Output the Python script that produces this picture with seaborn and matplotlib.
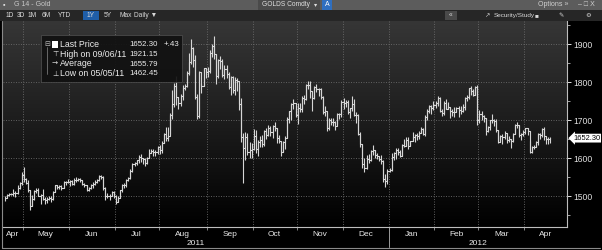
import numpy as np
import pandas as pd
import matplotlib
matplotlib.use("Agg")
import matplotlib.pyplot as plt
import matplotlib.transforms as mtransforms
from matplotlib.colors import LinearSegmentedColormap
from matplotlib.patches import Rectangle
import seaborn as sns

sns.set_theme(style="dark")
plt.rcParams['font.family'] = ['Liberation Sans', 'DejaVu Sans']

# ---------------- data (GOLDS Comdty, daily, 1Y) ----------------
close = [
    # Apr 2011
    1496, 1503, 1505, 1504, 1508, 1507, 1521, 1535, 1556,
    # May
    1545, 1535, 1515, 1474, 1491, 1513, 1516, 1500, 1502, 1492, 1489, 1493, 1495, 1493, 1511, 1528, 1525, 1526, 1521, 1536, 1536, 1536,
    # Jun
    1540, 1531, 1542, 1543, 1545, 1542, 1531, 1528, 1516, 1522, 1530, 1531, 1538, 1542, 1552, 1550, 1520, 1500, 1500, 1501, 1511, 1501,
    # Jul
    1483, 1496, 1515, 1528, 1530, 1542, 1547, 1566, 1584, 1587, 1594, 1603, 1601, 1598, 1587, 1601, 1614, 1619, 1615, 1615, 1628,
    # Aug
    1622, 1640, 1663, 1652, 1659, 1713, 1742, 1790, 1760, 1746, 1764, 1785, 1790, 1823, 1852, 1889, 1857, 1760, 1711, 1826, 1790, 1836, 1826,
    # Sep
    1828, 1877, 1896, 1873, 1816, 1859, 1856, 1818, 1834, 1821, 1786, 1813, 1779, 1806, 1803, 1741, 1656, 1627, 1656, 1616, 1622, 1624,
    # Oct
    1659, 1623, 1642, 1648, 1636, 1670, 1661, 1680, 1669, 1683, 1678, 1652, 1645, 1617, 1642, 1653, 1703, 1723, 1743, 1746, 1712,
    # Nov
    1732, 1730, 1758, 1755, 1793, 1793, 1776, 1758, 1788, 1781, 1782, 1760, 1721, 1724, 1678, 1700, 1694, 1696, 1683, 1715, 1716, 1747,
    # Dec
    1745, 1747, 1720, 1731, 1741, 1712, 1712, 1663, 1636, 1585, 1575, 1598, 1596, 1618, 1620, 1608, 1605, 1598, 1592, 1545, 1540, 1566,
    # Jan 2012
    1568, 1603, 1613, 1620, 1616, 1606, 1635, 1631, 1647, 1631, 1645, 1654, 1660, 1657, 1667, 1677, 1664, 1709, 1725, 1737, 1731, 1740,
    # Feb
    1745, 1758, 1725, 1719, 1746, 1730, 1735, 1724, 1722, 1722, 1731, 1726, 1723, 1734, 1758, 1760, 1783, 1777, 1767, 1788, 1700,
    # Mar
    1716, 1710, 1705, 1671, 1682, 1700, 1701, 1697, 1674, 1643, 1658, 1655, 1665, 1648, 1650, 1644, 1663, 1686, 1686, 1660, 1662, 1669,
    # Apr
    1678, 1672, 1616, 1628, 1630, 1641, 1662, 1660, 1676, 1659, 1650, 1650, 1652.3,
]
high = [
    1500, 1506, 1509, 1507, 1518, 1512, 1530, 1537, 1564,
    1577, 1548, 1543, 1517, 1502, 1517, 1521, 1520, 1505, 1518, 1497, 1497, 1500, 1499, 1513, 1530, 1530, 1530, 1528, 1539, 1540, 1545,
    1543, 1542, 1547, 1549, 1548, 1547, 1543, 1535, 1530, 1525, 1532, 1537, 1541, 1545, 1554, 1556, 1552, 1523, 1507, 1504, 1514, 1512,
    1503, 1499, 1516, 1531, 1535, 1545, 1550, 1570, 1586, 1590, 1595, 1607, 1610, 1600, 1600, 1602, 1623, 1624, 1625, 1622, 1632,
    1635, 1645, 1665, 1682, 1681, 1718, 1778, 1797, 1815, 1760, 1769, 1791, 1795, 1830, 1877, 1912, 1893, 1870, 1769, 1829, 1798, 1838, 1836,
    1840, 1883, 1900, 1921, 1873, 1860, 1868, 1860, 1844, 1844, 1827, 1815, 1817, 1813, 1811, 1796, 1758, 1665, 1669, 1665, 1642, 1640,
    1676, 1673, 1647, 1658, 1660, 1675, 1678, 1688, 1683, 1687, 1695, 1678, 1660, 1645, 1644, 1659, 1707, 1725, 1746, 1755, 1739,
    1744, 1746, 1764, 1765, 1796, 1803, 1802, 1767, 1790, 1795, 1785, 1785, 1763, 1736, 1722, 1706, 1705, 1704, 1697, 1719, 1719, 1753,
    1757, 1753, 1753, 1732, 1763, 1754, 1720, 1715, 1668, 1637, 1601, 1607, 1611, 1622, 1634, 1620, 1612, 1602, 1608, 1594, 1557, 1571,
    1573, 1612, 1615, 1626, 1626, 1622, 1637, 1649, 1654, 1654, 1646, 1668, 1663, 1667, 1672, 1681, 1680, 1712, 1730, 1739, 1740, 1750,
    1750, 1764, 1761, 1728, 1750, 1755, 1748, 1735, 1728, 1735, 1734, 1737, 1738, 1742, 1760, 1765, 1785, 1790, 1781, 1789, 1792,
    1726, 1725, 1714, 1705, 1685, 1701, 1715, 1702, 1702, 1675, 1661, 1664, 1670, 1664, 1657, 1651, 1665, 1690, 1696, 1686, 1665, 1673,
    1679, 1677, 1646, 1632, 1635, 1645, 1667, 1665, 1678, 1681, 1655, 1654, 1656,
]
low = [
    1488, 1494, 1499, 1502, 1500, 1497, 1505, 1518, 1530,
    1536, 1531, 1510, 1462, 1473, 1490, 1508, 1500, 1479, 1490, 1478, 1481, 1489, 1484, 1490, 1510, 1518, 1519, 1516, 1520, 1530, 1533,
    1527, 1528, 1528, 1538, 1540, 1536, 1530, 1524, 1512, 1512, 1518, 1520, 1528, 1535, 1540, 1544, 1515, 1490, 1495, 1489, 1500, 1495,
    1478, 1484, 1494, 1511, 1521, 1523, 1540, 1546, 1563, 1580, 1581, 1588, 1589, 1583, 1580, 1585, 1599, 1612, 1606, 1605, 1610,
    1611, 1613, 1640, 1645, 1644, 1664, 1703, 1733, 1740, 1729, 1738, 1752, 1779, 1786, 1818, 1848, 1839, 1755, 1702, 1704, 1771, 1789, 1810,
    1813, 1825, 1866, 1861, 1795, 1811, 1833, 1813, 1808, 1811, 1782, 1766, 1771, 1766, 1777, 1726, 1641, 1535, 1596, 1609, 1600, 1601,
    1620, 1614, 1604, 1630, 1630, 1632, 1650, 1658, 1659, 1653, 1670, 1640, 1640, 1605, 1616, 1625, 1652, 1693, 1700, 1728, 1708,
    1690, 1722, 1722, 1743, 1752, 1781, 1759, 1725, 1755, 1774, 1764, 1755, 1717, 1710, 1670, 1673, 1687, 1685, 1673, 1690, 1703, 1707,
    1729, 1735, 1717, 1704, 1725, 1710, 1693, 1661, 1628, 1575, 1563, 1571, 1588, 1592, 1608, 1600, 1598, 1592, 1584, 1537, 1523, 1531,
    1562, 1566, 1595, 1598, 1607, 1602, 1606, 1629, 1631, 1625, 1632, 1644, 1642, 1648, 1650, 1665, 1660, 1657, 1700, 1718, 1717, 1727,
    1732, 1738, 1721, 1710, 1713, 1728, 1728, 1704, 1711, 1707, 1720, 1707, 1715, 1722, 1727, 1750, 1755, 1767, 1764, 1767, 1688,
    1691, 1701, 1694, 1660, 1668, 1675, 1693, 1685, 1668, 1640, 1642, 1637, 1650, 1639, 1641, 1627, 1641, 1662, 1678, 1655, 1648, 1657,
    1662, 1660, 1612, 1613, 1625, 1630, 1634, 1650, 1655, 1647, 1637, 1638, 1640,
]
month_labels = ["Apr", "May", "Jun", "Jul", "Aug", "Sep", "Oct", "Nov", "Dec", "Jan", "Feb", "Mar", "Apr"]
year_labels = ["2011", "2012"]
price_ticks = [1500, 1600, 1700, 1800, 1900]
legend_rows = [("Last Price", "1652.30", "+.43"),
               ("High on 09/06/11", "1921.15", ""),
               ("Average", "1655.79", ""),
               ("Low on 05/05/11", "1462.45", "")]
last_price = 1652.30
buttons = ["1D", "3D", "1M", "6M", "YTD", "1Y", "5Y", "Max", "Daily \u25BC"]

n = min(len(close), len(high), len(low))
dates = pd.bdate_range("2011-04-19", periods=n)
df = pd.DataFrame({"i": np.arange(n), "close": close[:n], "high": high[:n], "low": low[:n]})

# ---------------- figure ----------------
W, H = 602, 250
fig = plt.figure(figsize=(W / 100, H / 100), dpi=100, facecolor="black")
PL, PR, PT, PB = 3, 567, 21, 227
rect = [PL / W, 1 - PB / H, (PR - PL) / W, (PB - PT) / H]

bg = fig.add_axes(rect, zorder=0)
cmap = LinearSegmentedColormap.from_list("g", ["#363636", "#1c1c1c", "#000000"])
bg.imshow(np.linspace(0, 1, 256)[:, None], cmap=cmap, aspect="auto", extent=[0, 1, 0, 1])
bg.axis("off")

ax = fig.add_axes(rect, zorder=1)
ax.patch.set_alpha(0)
pxbar = 2.09
x0 = -(5 - PL) / pxbar
x1 = (PR - 5) / pxbar
ax.set_xlim(x0, x1)
ylo = 1600 - (PB - 158) / 0.38
yhi = 1600 + (158 - PT) / 0.38
ax.set_ylim(ylo, yhi)

# grid
for p in price_ticks:
    ax.axhline(p, color="#6a6a6a", lw=0.6, ls=(0, (1.2, 1.8)), zorder=1)
starts = [0] + [k for k in range(1, n) if dates[k].month != dates[k - 1].month]
bounds = [s - 0.5 for s in starts[1:]]
for b in bounds:
    ax.axvline(b, color="#6a6a6a", lw=0.6, ls=(0, (1.2, 1.8)), zorder=1)

# bars
bar_col = "#d6d6d6"
ax.vlines(df["i"], df["low"], df["high"], color=bar_col, lw=0.8, zorder=3)
sns.lineplot(data=df, x="i", y="close", drawstyle="steps-post", color=bar_col,
             lw=0.8, ax=ax, zorder=3)
ax.set_xlabel("")
ax.set_ylabel("")

# spines
for s in ["top", "left"]:
    ax.spines[s].set_visible(False)
ax.spines["right"].set_color("#bdbdbd")
ax.spines["bottom"].set_color("#bdbdbd")
ax.spines["right"].set_linewidth(0.8)
ax.spines["bottom"].set_linewidth(0.8)

# y axis on right
ax.yaxis.tick_right()
ax.set_yticks(price_ticks)
ax.set_yticklabels([str(p) for p in price_ticks])
ax.set_yticks(np.arange(1450, 1951, 50), minor=True)
ax.tick_params(axis="y", which="major", colors="#e0e0e0", labelsize=6.2, length=3, width=0.7, pad=1.5, direction="out", right=True, left=False)
ax.tick_params(axis="y", which="minor", colors="#bdbdbd", length=1.8, width=0.6, right=True, left=False)
ax.set_xticks(bounds)
ax.set_xticklabels([])
ax.tick_params(axis="x", colors="#9a9a9a", length=2, width=0.6, bottom=True)

# month labels
bt = mtransforms.blended_transform_factory(ax.transData, ax.transAxes)
for k, s in enumerate(starts):
    a = x0 if k == 0 else s - 0.5
    b = starts[k + 1] - 0.5 if k + 1 < len(starts) else x1
    ax.text((a + b) / 2, -7.5 / 206, month_labels[k], transform=bt, ha="center", va="center",
            fontsize=6, color="#e8e8e8", clip_on=False)
jan = [s for s in starts if dates[s].month == 1][0] - 0.5
ax.text((x0 + jan) / 2, -16.5 / 206, year_labels[0], transform=bt, ha="center", va="center",
        fontsize=6, color="#e8e8e8", clip_on=False)
ax.text((jan + x1) / 2, -16.5 / 206, year_labels[1], transform=bt, ha="center", va="center",
        fontsize=6, color="#e8e8e8", clip_on=False)
ax.plot([jan, jan], [0, -20 / 206], transform=bt, color="#9a9a9a", lw=0.7, clip_on=False)

# last price box
bty = mtransforms.blended_transform_factory(ax.transAxes, ax.transData)
ax.text(1.0 + 6 / 564, last_price, "1652.30", transform=bty, ha="left", va="center", fontsize=5.4,
        color="black", clip_on=False,
        bbox=dict(boxstyle="larrow,pad=0.12", fc="white", ec="none"))

# frame lines
def fxy(px, py):
    return px / W, 1 - py / H
fig.add_artist(plt.Line2D([2 / W, 2 / W], [1 - 21 / H, 1 - 248 / H], color="#8a8a8a", lw=0.8, zorder=6))
fig.add_artist(plt.Line2D([2 / W, 600 / W], [1 - 247.5 / H, 1 - 247.5 / H], color="#8a8a8a", lw=0.8, zorder=6))

# top bars
fig.add_artist(Rectangle(fxy(0, 10), 1, 10 / H, transform=fig.transFigure, fc="#5c5c5c", ec="none", zorder=5))
fig.add_artist(Rectangle(fxy(0, 21), 1, 11 / H, transform=fig.transFigure, fc="#262626", ec="none", zorder=5))
fig.text(*fxy(3, 5), "\u25AA", fontsize=5, color="#dddddd", va="center", zorder=7)
fig.text(*fxy(14, 5), "G 14 - Gold", fontsize=5, color="#c8c8c8", va="center", zorder=7)
fig.add_artist(Rectangle(fxy(258, 9.5), 62 / W, 9 / H, transform=fig.transFigure, fc="#4a4a4a", ec="none", zorder=6))
fig.text(*fxy(262, 5), "GOLDS Comdty", fontsize=4.8, color="#e0e0e0", va="center", zorder=7)
fig.text(*fxy(314, 5), "\u25BE", fontsize=4.5, color="#e0e0e0", va="center", family="DejaVu Sans", zorder=7)
fig.add_artist(Rectangle(fxy(322, 9.5), 10 / W, 9 / H, transform=fig.transFigure, fc="#2f6fc0", ec="none", zorder=6))
fig.text(*fxy(327, 5), "A", fontsize=5, color="white", va="center", ha="center", zorder=7)
fig.text(*fxy(538, 5), "Options \u00BB", fontsize=5, color="#d0d0d0", va="center", zorder=7)
fig.text(*fxy(578, 5), "\u2013 \u25A1 X", fontsize=5, color="#d0d0d0", va="center", zorder=7)

bx = [6, 17, 28, 42, 58, 87, 104, 120, 134]
for t, x in zip(buttons, bx):
    if t == "1Y":
        fig.add_artist(Rectangle(fxy(x - 4, 20), 16 / W, 9 / H, transform=fig.transFigure, fc="#1f5ea8", ec="none", zorder=6))
    fig.text(*fxy(x, 15.5), t, fontsize=4.8, color="#d8d8d8", va="center", zorder=7)
fig.add_artist(Rectangle(fxy(445, 20), 12 / W, 9 / H, transform=fig.transFigure, fc="#4a4a4a", ec="none", zorder=6))
fig.text(*fxy(451, 15.5), "\u00AB", fontsize=4.8, color="#d8d8d8", va="center", ha="center", zorder=7)
fig.text(*fxy(484, 15.5), "\u2197", fontsize=4.6, color="#d8d8d8", va="center", zorder=7)
fig.text(*fxy(494, 15.5), "Security/Study", fontsize=4.6, color="#d8d8d8", va="center", zorder=7)
fig.text(*fxy(535, 15.5), "\u25A0", fontsize=4.6, color="#d8d8d8", va="center", zorder=7)
fig.text(*fxy(558, 15.5), "\u270E", fontsize=4.6, color="#d8d8d8", va="center", zorder=7)
fig.text(*fxy(585, 15.5), "\u2699", fontsize=4.6, color="#d8d8d8", va="center", zorder=7)

# legend box
fig.add_artist(Rectangle(fxy(41, 82), (182 - 41) / W, (82 - 35) / H, transform=fig.transFigure,
                         fc="#111111", ec="#4d4d4d", lw=0.6, alpha=0.92, zorder=8))
fig.add_artist(plt.Line2D([47 / W, 47 / W], [1 - 47 / H, 1 - 74 / H], color="#8a8a8a", lw=0.5, zorder=9))
fig.text(*fxy(44, 44.5), "\u229F", fontsize=5, color="#bbbbbb", va="center", family="DejaVu Sans", zorder=9)
fig.add_artist(Rectangle(fxy(52, 47.5), 6 / W, 6 / H, transform=fig.transFigure, fc="white", ec="none", zorder=9))
icons = ["", "\u22A4", "\u2192", "\u22A5"]
ys = [44.5, 54.3, 64, 73.7]
for (lab, val, chg), ic, yy in zip(legend_rows, icons, ys):
    if ic:
        fig.text(*fxy(52, yy), ic, fontsize=5.2, color="#dddddd", va="center", family="DejaVu Sans", zorder=9)
    fig.text(*fxy(60, yy), lab, fontsize=6.3, color="#ececec", va="center", zorder=9)
    fig.text(*fxy(129, yy), val, fontsize=5.7, color="#ececec", va="center", zorder=9)
    if chg:
        fig.text(*fxy(164, yy), chg, fontsize=5.7, color="#ececec", va="center", zorder=9)

fig.savefig("out.png", dpi=100, facecolor="black")
